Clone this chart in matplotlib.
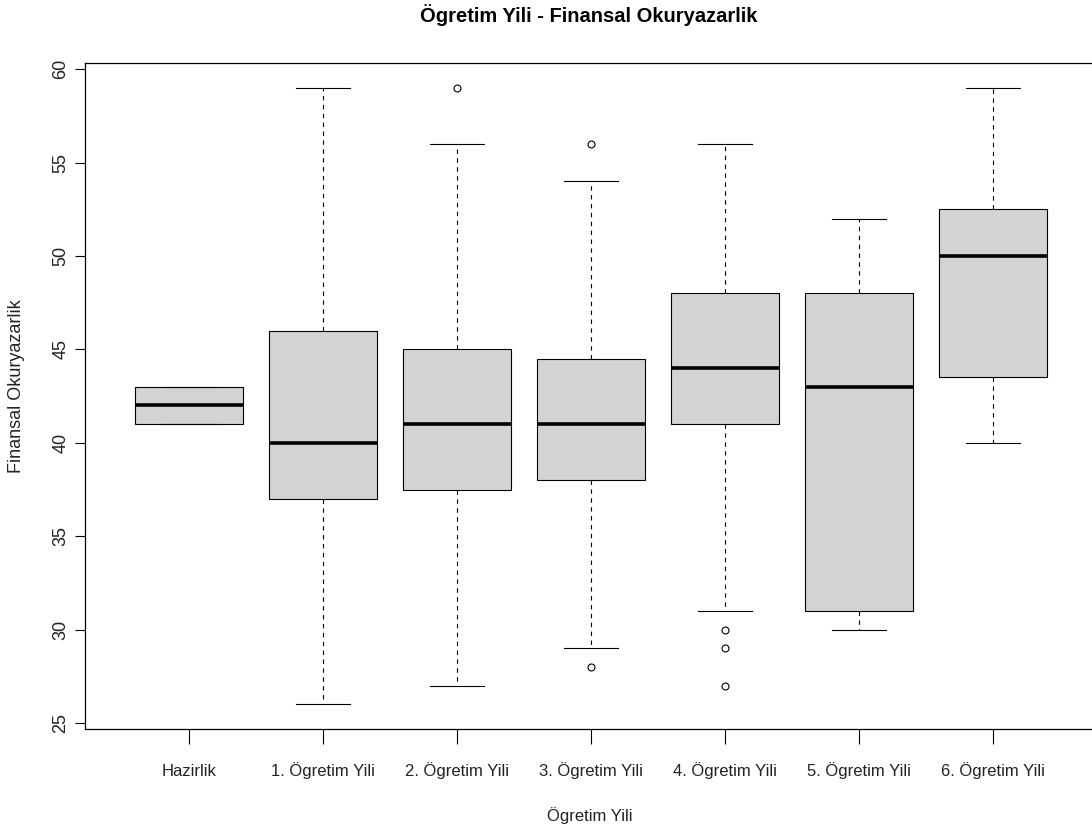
import matplotlib.pyplot as plt

groups = ["Hazirlik", "1. Ögretim Yili", "2. Ögretim Yili", "3. Ögretim Yili",
          "4. Ögretim Yili", "5. Ögretim Yili", "6. Ögretim Yili"]
medians = [42, 40, 41, 41, 44, 43, 50]
q1 = [41, 37, 37.5, 38, 41, 31, 43.5]
q3 = [43, 46, 45, 44.5, 48, 48, 52.5]
whisker_lo = [41, 26, 27, 29, 31, 30, 40]
whisker_hi = [43, 59, 56, 54, 56, 52, 59]
outliers = [[], [], [59], [56, 28], [30, 29, 27], [], []]
yticks = [25, 30, 35, 40, 45, 50, 55, 60]

font = ["Liberation Sans", "DejaVu Sans"]

stats = []
for i, name in enumerate(groups):
    stats.append({
        "label": name,
        "med": medians[i],
        "q1": q1[i],
        "q3": q3[i],
        "whislo": whisker_lo[i],
        "whishi": whisker_hi[i],
        "fliers": outliers[i],
    })

fig = plt.figure(figsize=(10.92, 8.31), dpi=100)
W, H = 1092, 831
ax = fig.add_axes([84.5 / W, (H - 729) / H, 1013 / W, 665.7 / H])

ax.bxp(stats, positions=range(1, len(groups) + 1), widths=0.8, capwidths=0.4,
       patch_artist=True, showfliers=True,
       boxprops=dict(facecolor="#d3d3d3", edgecolor="black", linewidth=0.8),
       medianprops=dict(color="black", linewidth=2.6, solid_capstyle="butt"),
       whiskerprops=dict(color="black", linewidth=0.8, linestyle=(0, (4, 4))),
       capprops=dict(color="black", linewidth=0.8),
       flierprops=dict(marker="o", markerfacecolor="none", markeredgecolor="black",
                       markersize=5, markeredgewidth=0.8))

ax.set_xlim(0.22, 7.78)
ax.set_ylim(24.68, 60.32)
ax.set_yticks(yticks)
ax.set_yticklabels([str(v) for v in yticks], rotation=90, va="center",
                   fontsize=13, family=font, color="#222222")
ax.set_xticks(range(1, len(groups) + 1))
ax.set_xticklabels(groups, fontsize=12, family=font, color="#222222",
                   va="baseline")
ax.tick_params(axis="y", length=7, width=0.8, pad=4)
ax.tick_params(axis="x", length=11, width=0.8, pad=23)
for s in ax.spines.values():
    s.set_linewidth(0.9)

fig.text(589 / W, 1 - 15 / H, "Ögretim Yili - Finansal Okuryazarlik",
         ha="center", va="center", fontsize=14.5, fontweight="bold", family=font)
fig.text(590 / W, 1 - 816 / H, "Ögretim Yili", ha="center", va="center",
         fontsize=12, family=font, color="#222222")
fig.text(17 / W, 1 - 386 / H, "Finansal Okuryazarlik", ha="center", va="center",
         rotation=90, fontsize=13, family=font, color="#222222")

fig.savefig("out.png", dpi=100)
